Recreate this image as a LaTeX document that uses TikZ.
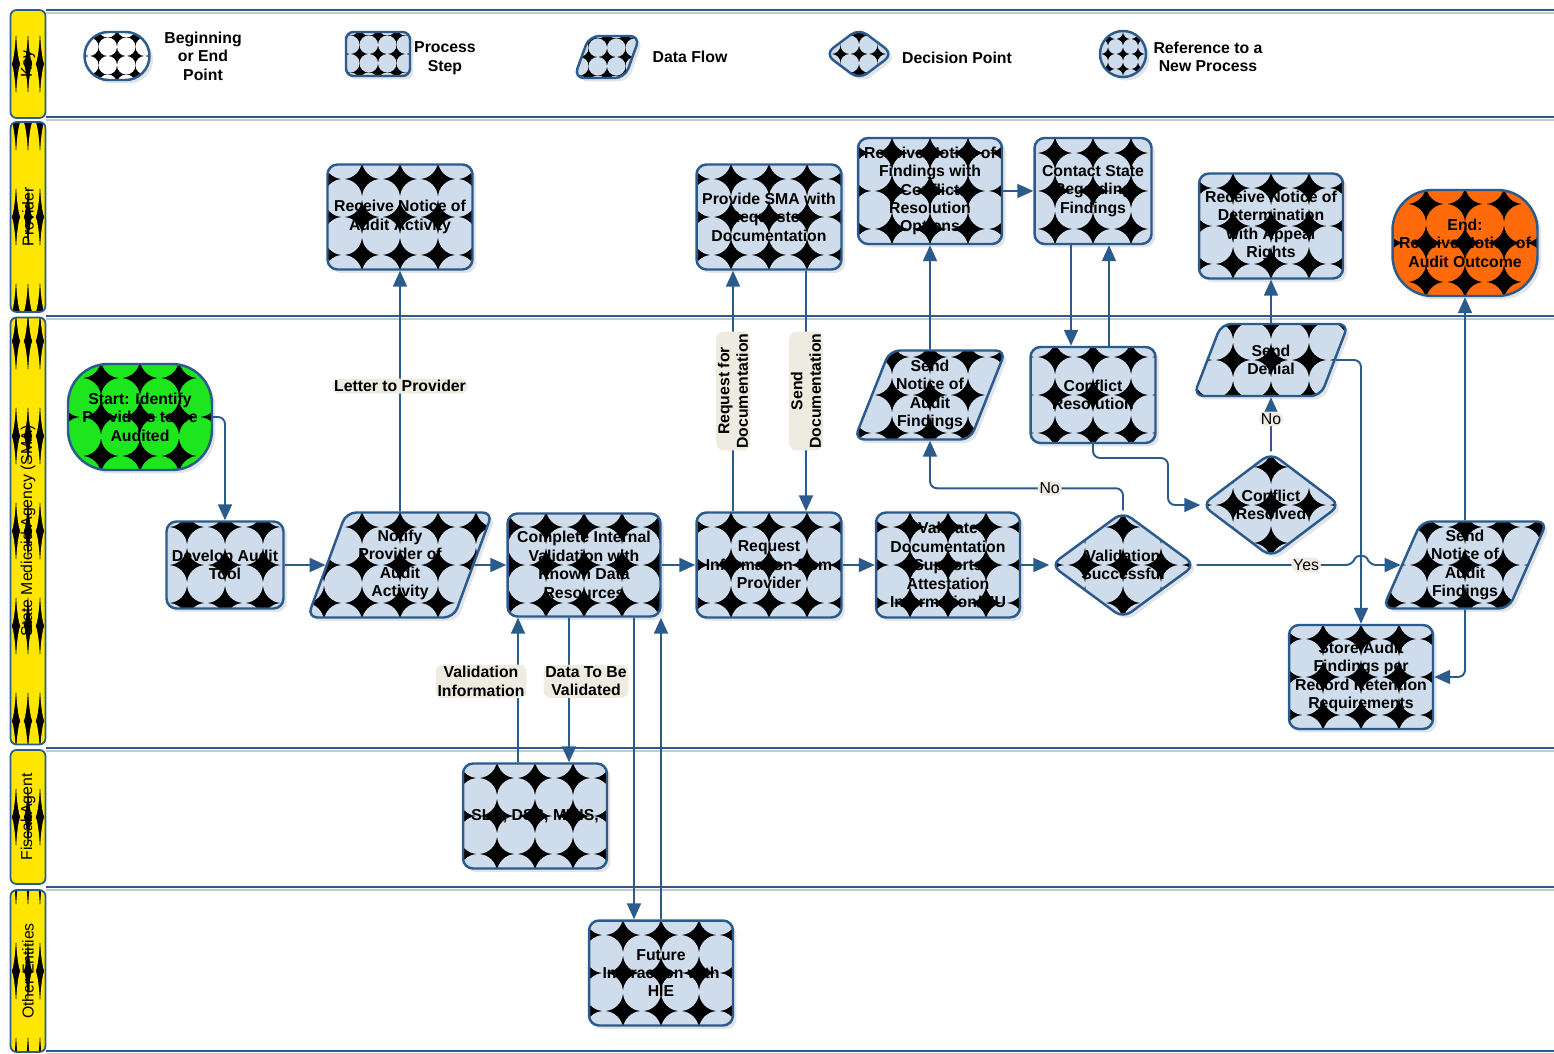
\documentclass[tikz,border=0pt]{standalone}
\usepackage{fontspec}
\setmainfont{Liberation Sans}
\usetikzlibrary{arrows.meta,shapes.geometric,shadows,calc}

\definecolor{lineblue}{HTML}{2B5A8C}
\definecolor{boxblue}{HTML}{CFDCEB}
\definecolor{labelbg}{HTML}{EEECE1}
\definecolor{startgreen}{HTML}{1EE61E}
\definecolor{endorange}{HTML}{FF6A0A}
\definecolor{laneyellow}{HTML}{FFE600}
\definecolor{shadowgray}{HTML}{C3C9D1}

\tikzset{
  tiles/.style n args={4}{path picture={
      \fill[black] (path picture bounding box.south west) rectangle (path picture bounding box.north east);
      \foreach \i in {-5,...,4}
        \foreach \j in {-5,...,4}
          \fill[#1] ([shift={({(\i+0.5)*#2},{(\j+0.5)*#3})}]path picture bounding box.center)
            ellipse [x radius={#4*#2}, y radius={#4*#3}];
  }},
  boxbase/.style={draw=lineblue, line width=1.4pt, align=center, inner sep=1pt,
    font=\bfseries\fontsize{9}{10.5}\selectfont,
    drop shadow={shadow xshift=0.07cm, shadow yshift=-0.07cm, fill=shadowgray, draw=none}},
  process/.style={boxbase, rectangle, rounded corners=0.2cm, tiles={boxblue}{0.76cm}{0.76cm}{0.5}},
  dataflow/.style={boxbase, trapezium, trapezium left angle=67, trapezium right angle=113,
    trapezium stretches=true, rounded corners=0.2cm, tiles={boxblue}{0.76cm}{0.76cm}{0.5}},
  decision/.style={boxbase, diamond, aspect=1.35, inner sep=0pt, rounded corners=0.2cm,
    tiles={boxblue}{0.76cm}{0.76cm}{0.5}},
  terminal/.style={boxbase, rectangle, rounded corners=0.8cm, tiles={#1}{0.78cm}{0.78cm}{0.5}},
  keytext/.style={font=\bfseries\fontsize{9}{10.5}\selectfont, align=center},
  lab/.style={fill=labelbg, font=\bfseries\fontsize{9}{10.5}\selectfont, align=center, inner sep=1pt},
  answer/.style={fill=labelbg, font=\fontsize{9}{10.5}\selectfont, inner sep=1pt},
  flow/.style={draw=lineblue, line width=1.1pt, rounded corners=4pt,
    -{Triangle[length=0.32cm,width=0.28cm]}},
  lanehead/.style={draw=lineblue, line width=1pt, rounded corners=0.12cm, minimum width=0.7cm,
    tiles={laneyellow}{0.24cm}{1.9cm}{0.52}},
  lanetext/.style={rotate=90, font=\fontsize{9}{10.5}\selectfont},
  laneline/.style={draw=lineblue, line width=1.2pt},
  laneshade/.style={draw=shadowgray, line width=1.2pt},
}

\begin{document}
\begin{tikzpicture}[x=0.02cm,y=-0.02cm]
    \useasboundingbox (0,0) rectangle (1554,1054);

    % lanes
    \foreach \ly in {10,117,316,748,887,1051} {
        \draw[laneshade] (46,\ly+3) -- (1554,\ly+3);
        \draw[laneline] (46,\ly) -- (1554,\ly);
    }
    \node[lanehead, minimum height=2.16cm] (hKey) at (28,64) {};
    \node[lanetext] (tKey) at (hKey) {Key};
    \node[lanehead, minimum height=3.8cm] (hProvider) at (28,217) {};
    \node[lanetext] (tProvider) at (hProvider) {Provider};
    \node[lanehead, minimum height=8.54cm] (hSMA) at (28,531) {};
    \node[lanetext] (tSMA) at (hSMA) {State Medicaid Agency (SMA)};
    \node[lanehead, minimum height=2.68cm] (hFiscal) at (28,817) {};
    \node[lanetext] (tFiscal) at (hFiscal) {Fiscal Agent};
    \node[lanehead, minimum height=3.24cm] (hOther) at (28,971) {};
    \node[lanetext] (tOther) at (hOther) {Other Entities};

    % key
    \node[boxbase, rectangle, rounded corners=0.48cm, minimum width=1.3cm, minimum height=0.96cm,
          tiles={white}{0.37cm}{0.37cm}{0.5}] (keyBegin) at (117,56) {};
    \node[keytext] (keyBeginTxt) at (203,56) {Beginning\\or End\\Point};
    \node[boxbase, rectangle, rounded corners=0.15cm, minimum width=1.28cm, minimum height=0.88cm,
          tiles={boxblue}{0.37cm}{0.37cm}{0.5}] (keyProcess) at (378,54) {};
    \node[keytext] (keyProcessTxt) at (445,58) {Process\\Step};
    \node[dataflow, minimum width=1.32cm, minimum height=0.84cm,
          tiles={boxblue}{0.37cm}{0.37cm}{0.5}] (keyFlow) at (607,57) {};
    \node[keytext] (keyFlowTxt) at (690,57) {Data Flow};
    \node[decision, minimum width=1.38cm, minimum height=1.04cm,
          tiles={boxblue}{0.37cm}{0.37cm}{0.5}] (keyDecision) at (859,54) {};
    \node[keytext] (keyDecisionTxt) at (957,58) {Decision Point};
    \node[boxbase, circle, minimum size=0.92cm,
          tiles={boxblue}{0.3cm}{0.3cm}{0.5}] (keyRef) at (1123,54) {};
    \node[keytext] (keyRefTxt) at (1208,57) {Reference to a\\New Process};

    % provider
    \node[process, minimum width=2.9cm, minimum height=2.1cm] (recvNotice) at (400,217) {Receive Notice of\\Audit Activity};
    \node[process, minimum width=2.9cm, minimum height=2.1cm] (provideSMA) at (769,217) {Provide SMA with\\Requested\\Documentation};
    \node[process, minimum width=2.88cm, minimum height=2.12cm] (recvFindings) at (930,191) {Receive Notice of\\Findings with\\Conflict\\Resolution\\Options};
    \node[process, minimum width=2.34cm, minimum height=2.12cm] (contactState) at (1093,191) {Contact State\\Regarding\\Findings};
    \node[process, minimum width=2.88cm, minimum height=2.1cm] (recvDetermination) at (1271,226) {Receive Notice of\\Determination\\with Appeal\\Rights};
    \node[terminal=endorange, minimum width=2.9cm, minimum height=2.12cm] (endNode) at (1465,243) {End:\\Receive Notice of\\Audit Outcome};

    % state medicaid agency
    \node[terminal=startgreen, minimum width=2.88cm, minimum height=2.12cm] (startNode) at (140,417) {Start: Identify\\Providers to be\\Audited};
    \node[process, minimum width=2.34cm, minimum height=1.74cm] (develop) at (225,565) {Develop Audit\\Tool};
    \node[dataflow, minimum width=3.72cm, minimum height=2.1cm] (notify) at (400,565) {Notify\\Provider of\\Audit\\Activity};
    \node[process, minimum width=3.06cm, minimum height=2.06cm] (complete) at (584,565) {Complete Internal\\Validation with\\Known Data\\Resources};
    \node[process, minimum width=2.9cm, minimum height=2.1cm] (request) at (769,565) {Request\\Information from\\Provider};
    \node[process, minimum width=2.88cm, minimum height=2.1cm] (validateDoc) at (948,565) {Validate\\Documentation\\Supports\\Attestation\\Information/MU};
    \node[decision, minimum width=2.9cm, minimum height=2.14cm] (validSucc) at (1123,565) {Validation\\Successful};
    \node[dataflow, minimum width=3.04cm, minimum height=1.78cm] (sendFindings) at (930,395) {Send\\Notice of\\Audit\\Findings};
    \node[process, minimum width=2.5cm, minimum height=1.92cm] (conflictRes) at (1093,395) {Conflict\\Resolution};
    \node[dataflow, minimum width=3.1cm, minimum height=1.44cm] (sendDenial) at (1271,360) {Send\\Denial};
    \node[decision, minimum width=2.78cm, minimum height=2.1cm] (resolved) at (1271,505) {Conflict\\Resolved};
    \node[dataflow, minimum width=3.3cm, minimum height=1.74cm] (sendOutcome) at (1465,565) {Send\\Notice of\\Audit\\Findings};
    \node[process, minimum width=2.88cm, minimum height=2.08cm] (store) at (1361,677) {Store Audit\\Findings per\\Record Retention\\Requirements};

    % fiscal agent and other entities
    \node[process, minimum width=2.88cm, minimum height=2.1cm] (slr) at (535,816) {SLR, DSS, MMIS,};
    \node[process, minimum width=2.88cm, minimum height=2.1cm] (future) at (661,973) {Future\\Interaction with\\HIE};

    \coordinate (hop) at (1361,565);
    \coordinate (bend) at (1168,458);

    % connectors
    \draw[flow] (startNode.east) -| (develop.north);
    \draw[flow] (develop.east) -- (notify.west);
    \draw[flow] (notify.north) -- node[lab, pos=0.52] (labLetter) {Letter to Provider} (recvNotice.south);
    \draw[flow] (notify.east) -- (complete.west);
    \draw[flow] (complete.east) -- (request.west);
    \draw[flow] ([xshift=-0.72cm]request.north) -- node[lab, rotate=90] (labRequest) {Request for\\Documentation} ([xshift=-0.72cm]provideSMA.south);
    \draw[flow] ([xshift=0.74cm]provideSMA.south) -- node[lab, rotate=90] (labSend) {Send\\Documentation} ([xshift=0.74cm]request.north);
    \draw[flow] (request.east) -- (validateDoc.west);
    \draw[flow] (validateDoc.east) -- (validSucc.west);
    \draw[flow] (validSucc.north) -- ++(0,-22) coordinate (noTurn)
        -- node[answer, pos=0.38] (labNo) {No} (noTurn -| sendFindings.south) -- (sendFindings.south);
    \draw[flow] (validSucc.east) -- node[answer, pos=0.7] (labYes) {Yes} ([xshift=-0.16cm]hop)
        .. controls ([xshift=-0.1cm,yshift=0.2cm]hop) and ([xshift=0.1cm,yshift=0.2cm]hop) .. ([xshift=0.16cm]hop)
        -- (sendOutcome.west);
    \draw[flow] (sendFindings.north) -- (recvFindings.south);
    \draw[flow] (recvFindings.east) -- (contactState.west);
    \draw[flow] ([xshift=-0.44cm]contactState.south) -- ([xshift=-0.44cm]conflictRes.north);
    \draw[flow] ([xshift=0.32cm]conflictRes.north) -- ([xshift=0.32cm]contactState.south);
    \draw[flow] (conflictRes.south) |- (bend) |- (resolved.west);
    \draw[flow] (resolved.north) -- node[answer, pos=0.6] (labNo2) {No} (sendDenial.south);
    \draw[flow] (sendDenial.north) -- (recvDetermination.south);
    \draw[flow] (sendDenial.east) -| (store.north);
    \draw[flow] (sendOutcome.north) -- (endNode.south);
    \draw[flow] (sendOutcome.south) |- (store.east);
    \draw[flow] ([xshift=-0.3cm]complete.south) -- node[lab, pos=0.44, xshift=0.34cm] (labData) {Data To Be\\Validated} ([xshift=0.68cm]slr.north);
    \draw[flow] ([xshift=-0.34cm]slr.north) -- node[lab, pos=0.56, xshift=-0.74cm] (labInfo) {Validation\\Information} ([xshift=-1.32cm]complete.south);
    \draw[flow] ([xshift=1cm]complete.south) -- ([xshift=-0.54cm]future.north);
    \draw[flow] (future.north) -- ([xshift=1.54cm]complete.south);
\end{tikzpicture}
\end{document}
